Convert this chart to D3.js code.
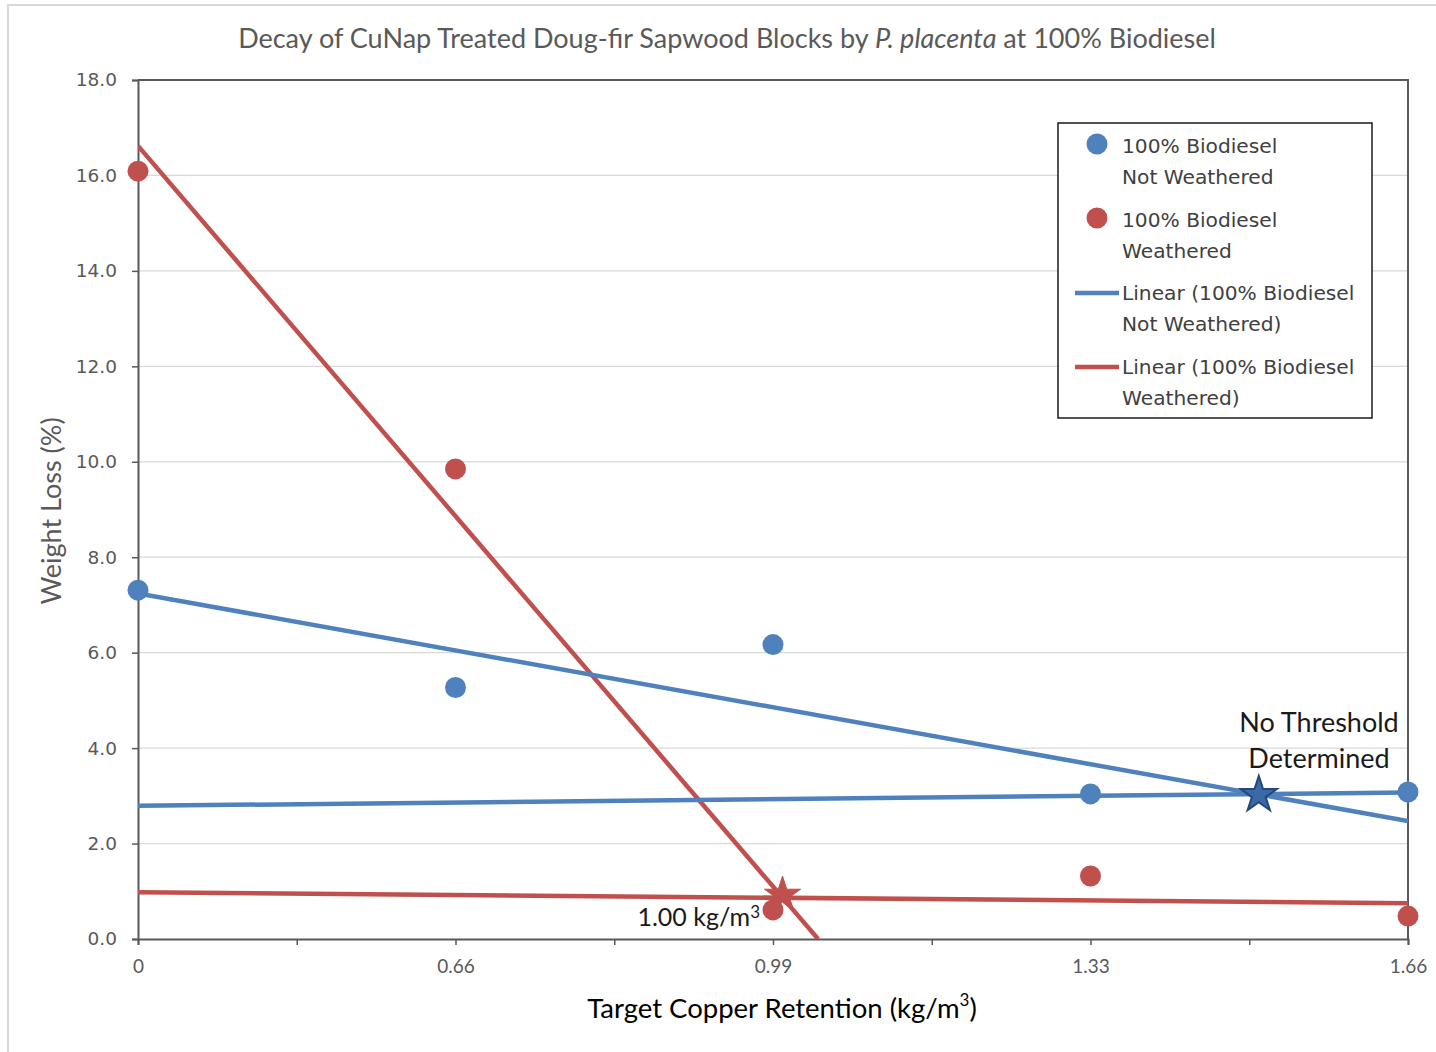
<!DOCTYPE html>
<html>
<head>
<meta charset="utf-8">
<script src="https://cdn.jsdelivr.net/npm/d3@7"></script>
<style>
  html, body { margin: 0; padding: 0; background: #ffffff; }
  svg { display: block; }
</style>
</head>
<body>
<svg id="chart" width="1436" height="1052"></svg>
<script>
// Target copper retention categories (kg/m3), evenly spaced along the x axis
const categories = ["0", "0.66", "0.99", "1.33", "1.66"];

// Weight loss (%) per retention level
const notWeathered = [7.31, 5.27, 6.17, 3.04, 3.08];
const weathered = [16.09, 9.85, 0.61, 1.32, 0.48];

// Linear trend lines, given as [categoryIndex, weightLoss] end points
const trendNotWeatheredFall = [[0, 7.24], [4, 2.47]];
const trendNotWeatheredFlat = [[0, 2.79], [4, 3.07]];
const trendWeatheredSteep = [[0, 16.62], [2.142, 0]];
const trendWeatheredFlat = [[0, 0.98], [4, 0.75]];

// Threshold points where the trend lines cross
const thresholdWeathered = [2.03, 0.92];
const thresholdNotWeathered = [3.53, 3.02];

// Axis ticks
const yTicks = [0, 2, 4, 6, 8, 10, 12, 14, 16, 18];
const xTicks = [0, 0.5, 1, 1.5, 2, 2.5, 3, 3.5, 4];

const BLUE = "#4f81bd";
const RED = "#c0504d";
const AXIS = "#595959";
const GRID = "#d9d9d9";

const svg = d3.select("#chart");

// outer frame
svg.append("rect")
  .attr("x", 8).attr("y", 5).attr("width", 1500).attr("height", 1100)
  .attr("fill", "none").attr("stroke", "#d9d9d9").attr("stroke-width", 2);

const plotLeft = 138, plotRight = 1408, plotTop = 80, plotBottom = 939;
const x = d3.scaleLinear().domain([0, categories.length - 1]).range([plotLeft, plotRight]);
const y = d3.scaleLinear().domain([0, 18]).range([plotBottom, plotTop]);

// gridlines
svg.append("g")
  .selectAll("line")
  .data(yTicks.filter(t => t > 0 && t < 18))
  .join("line")
  .attr("x1", plotLeft).attr("x2", plotRight)
  .attr("y1", d => y(d)).attr("y2", d => y(d))
  .attr("stroke", GRID).attr("stroke-width", 1.3);

// y axis
const yAxis = svg.append("g")
  .attr("transform", `translate(${plotLeft},0)`)
  .call(d3.axisLeft(y).tickValues(yTicks).tickFormat(d3.format(".1f")).tickSizeOuter(0).tickSize(6).tickPadding(15));
yAxis.select(".domain").attr("stroke", AXIS).attr("stroke-width", 2);
yAxis.selectAll(".tick line").attr("stroke", AXIS).attr("stroke-width", 1.5);
yAxis.selectAll(".tick text")
  .attr("fill", AXIS)
  .style("font-family", "'DejaVu Sans', Verdana, sans-serif")
  .style("font-size", "18.5px");

// x axis
const xAxis = svg.append("g")
  .attr("transform", `translate(0,${plotBottom})`)
  .call(d3.axisBottom(x).tickValues(xTicks)
    .tickFormat(d => Number.isInteger(d) ? categories[d] : "")
    .tickSizeOuter(0).tickSize(6).tickPadding(15));
xAxis.select(".domain").attr("stroke", AXIS).attr("stroke-width", 2);
xAxis.selectAll(".tick line").attr("stroke", AXIS).attr("stroke-width", 1.5);
xAxis.selectAll(".tick text")
  .attr("fill", AXIS)
  .style("font-family", "Lato, 'Liberation Sans Narrow', sans-serif")
  .style("font-size", "19px");

// top and right plot border
svg.append("path")
  .attr("d", `M${plotLeft},${plotTop}H${plotRight}V${plotBottom}`)
  .attr("fill", "none").attr("stroke", AXIS).attr("stroke-width", 2);

// clip for trend lines
svg.append("clipPath").attr("id", "plotClip")
  .append("rect").attr("x", plotLeft).attr("y", plotTop)
  .attr("width", plotRight - plotLeft).attr("height", plotBottom - plotTop);

const line = d3.line().x(d => x(d[0])).y(d => y(d[1]));
const trendGroup = svg.append("g").attr("clip-path", "url(#plotClip)");
[
  [trendWeatheredSteep, RED],
  [trendNotWeatheredFall, BLUE],
  [trendNotWeatheredFlat, BLUE],
  [trendWeatheredFlat, RED]
].forEach(([pts, color]) => {
  trendGroup.append("path")
    .attr("d", line(pts))
    .attr("fill", "none")
    .attr("stroke", color)
    .attr("stroke-width", 4.5);
});

// data points
const R = 10.5;
svg.append("g").selectAll("circle")
  .data(notWeathered)
  .join("circle")
  .attr("cx", (d, i) => x(i)).attr("cy", d => y(d)).attr("r", R)
  .attr("fill", BLUE);
svg.append("g").selectAll("circle")
  .data(weathered)
  .join("circle")
  .attr("cx", (d, i) => x(i)).attr("cy", d => y(d)).attr("r", R)
  .attr("fill", RED);

// threshold stars
const star = d3.symbol().type(d3.symbolStar).size(19 * 19 / 0.8908);
svg.append("path")
  .attr("d", star())
  .attr("transform", `translate(${x(thresholdWeathered[0])},${y(thresholdWeathered[1])})`)
  .attr("fill", RED).attr("stroke", RED).attr("stroke-width", 1);
svg.append("path")
  .attr("d", star())
  .attr("transform", `translate(${x(thresholdNotWeathered[0])},${y(thresholdNotWeathered[1])})`)
  .attr("fill", "#3a6aa6").attr("stroke", "#24487a").attr("stroke-width", 2);

// threshold annotations
const noteFont = "Lato, 'Open Sans', sans-serif";
const kgLabel = svg.append("text")
  .attr("x", 760).attr("y", 926)
  .attr("text-anchor", "end")
  .attr("fill", "#1a1a1a")
  .style("font-family", noteFont)
  .style("font-size", "25px");
kgLabel.append("tspan").text("1.00 kg/m");
kgLabel.append("tspan").attr("dy", -8).style("font-size", "17px").text("3");

svg.append("text")
  .attr("x", 1319).attr("y", 732)
  .attr("text-anchor", "middle")
  .attr("fill", "#1a1a1a")
  .style("font-family", noteFont)
  .style("font-size", "27px")
  .text("No Threshold");
svg.append("text")
  .attr("x", 1319).attr("y", 768)
  .attr("text-anchor", "middle")
  .attr("fill", "#1a1a1a")
  .style("font-family", noteFont)
  .style("font-size", "27px")
  .text("Determined");

// title
const title = svg.append("text")
  .attr("x", 727).attr("y", 48)
  .attr("text-anchor", "middle")
  .attr("fill", AXIS)
  .style("font-family", "Lato, 'Open Sans', sans-serif")
  .style("font-size", "27px");
title.append("tspan").text("Decay of CuNap Treated Doug-fir Sapwood Blocks by ");
title.append("tspan").style("font-style", "italic").text("P. placenta");
title.append("tspan").text(" at 100% Biodiesel");

// axis titles
svg.append("text")
  .attr("transform", "translate(61,511) rotate(-90)")
  .attr("text-anchor", "middle")
  .attr("fill", AXIS)
  .style("font-family", "Lato, 'Open Sans', sans-serif")
  .style("font-size", "27px")
  .text("Weight Loss (%)");

const xTitle = svg.append("text")
  .attr("x", 782).attr("y", 1018)
  .attr("text-anchor", "middle")
  .attr("fill", "#000000")
  .style("font-family", "Lato, 'Open Sans', sans-serif")
  .style("font-size", "27.5px");
xTitle.append("tspan").text("Target Copper Retention (kg/m");
xTitle.append("tspan").attr("dy", -12).style("font-size", "17px").text("3");
xTitle.append("tspan").attr("dy", 12).text(")");

// legend
const legend = svg.append("g");
legend.append("rect")
  .attr("x", 1058).attr("y", 123).attr("width", 314).attr("height", 295)
  .attr("fill", "#ffffff").attr("stroke", "#1a1a1a").attr("stroke-width", 1.5);

const legendItems = [
  { kind: "dot", color: BLUE, lines: ["100% Biodiesel", "Not Weathered"], y: 144, base: 153 },
  { kind: "dot", color: RED, lines: ["100% Biodiesel", "Weathered"], y: 218, base: 227 },
  { kind: "line", color: BLUE, lines: ["Linear (100% Biodiesel", "Not Weathered)"], y: 293, base: 300 },
  { kind: "line", color: RED, lines: ["Linear (100% Biodiesel", "Weathered)"], y: 367, base: 374 }
];
legendItems.forEach(item => {
  if (item.kind === "dot") {
    legend.append("circle").attr("cx", 1097).attr("cy", item.y).attr("r", R).attr("fill", item.color);
  } else {
    legend.append("line")
      .attr("x1", 1075).attr("x2", 1119).attr("y1", item.y).attr("y2", item.y)
      .attr("stroke", item.color).attr("stroke-width", 4.5);
  }
  item.lines.forEach((t, k) => {
    legend.append("text")
      .attr("x", 1122).attr("y", item.base + k * 30.5)
      .attr("fill", "#404040")
      .style("font-family", "'DejaVu Sans', Verdana, sans-serif")
      .style("font-size", "20.2px")
      .text(t);
  });
});
</script>
</body>
</html>
